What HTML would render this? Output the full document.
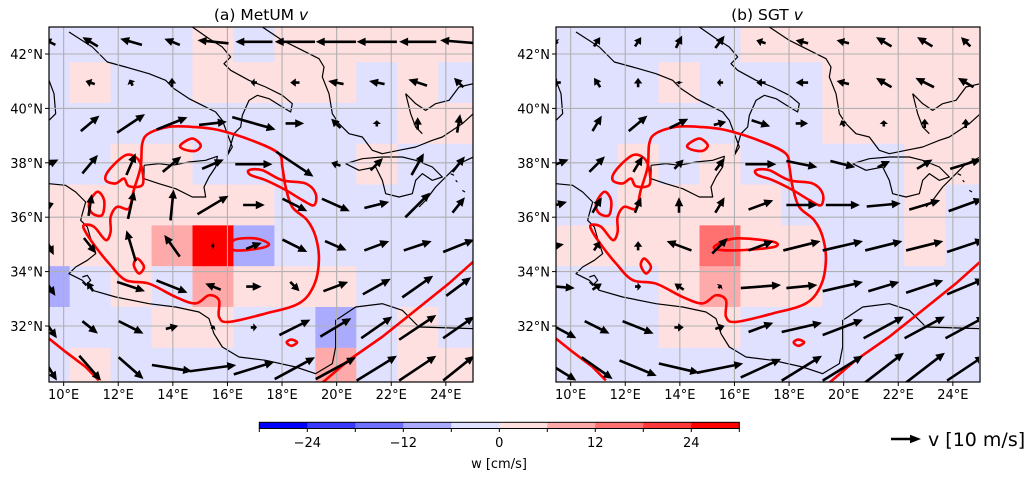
<!DOCTYPE html>
<html><head><meta charset="utf-8"><style>
html,body{margin:0;padding:0;background:#fff;}
svg{display:block;font-family:"DejaVu Sans","Liberation Sans",sans-serif;}
</style></head><body>
<svg id="fig" width="1036" height="480" viewBox="0 0 1036 480" xmlns="http://www.w3.org/2000/svg">
<defs>
<clipPath id="clipA"><rect x="49" y="27" width="424" height="355"/></clipPath>
<clipPath id="clipB"><rect x="556" y="27" width="423" height="355"/></clipPath>
</defs>
<g id="panelA"></g>
<g id="panelB"></g>
<text x="261" y="20" font-size="15.5" text-anchor="middle">(a) MetUM <tspan font-style="italic">v</tspan></text>
<text x="767" y="20" font-size="15.5" text-anchor="middle">(b) SGT <tspan font-style="italic">v</tspan></text>
<g id="cbar"></g>
<g>
<line x1="891" y1="439" x2="912" y2="439" stroke="#000" stroke-width="2.6"/>
<polygon points="921,439 910,434.8 910,443.2" fill="#000"/>
<text x="928" y="446" font-size="19">v [10 m/s]</text>
</g>
</svg>
<script>
// ---- data ----
const lonTicks = [10,12,14,16,18,20,22,24];
const latTicks = [32,34,36,38,40,42];
const cbTicks = [-24,-12,0,12,24];
const cbLevels = [-30,-24,-18,-12,-6,0,6,12,18,24,30];
const cbColors = ["#0000ff","#3939ff","#7070ff","#aaaaff","#e0e0ff","#ffe0e0","#ffaaaa","#ff7070","#ff3939","#ff0000"];
const cellLon0 = 8.72, cellLat0 = 43.2, cellSize = 1.5;
const wA = [
[-3,-3,-3,-3,3,-3,3,3,3,3,3],
[-3,3,-3,-3,3,3,3,3,-3,3,-3],
[-3,-3,-3,-3,-3,-3,-3,-3,-3,3,3],
[-3,-3,3,3,-3,-3,-3,-3,3,-3,-3],
[3,3,3,3,3,3,-3,-3,-3,-3,-3],
[3,3,3,9,27,-9,-3,-3,-3,-3,-3],
[-9,-3,3,-3,9,3,3,3,-3,-3,-3],
[-3,-3,-3,3,3,-3,-3,-9,-3,3,-3],
[-3,3,-3,-3,-3,-3,-3,9,-3,3,3]];
const wB = [
[-3,-3,-3,-3,-3,3,3,3,3,3,3],
[-3,-3,-3,3,-3,-3,-3,3,3,3,3],
[-3,-3,-3,-3,-3,-3,-3,3,3,3,3],
[-3,-3,3,-3,3,-3,-3,-3,-3,3,3],
[-3,-3,3,3,3,3,-3,-3,-3,3,-3],
[3,3,3,3,15,3,3,-3,-3,3,-3],
[-3,-3,-3,3,9,3,3,-3,-3,-3,-3],
[-3,-3,-3,3,3,-3,-3,-3,-3,-3,-3],
[-3,-3,-3,-3,-3,-3,-3,-3,-3,-3,-3]];
const uA = [
[-4,-5,-7,-5,-10,-12,-13,-13,-13,-12,-12],
[0,-3,-1,0,0,-2,-3,-5,-5,-6,-3],
[0,6,9,10,9,14,6,-3,0,0,1],
[6,5,3,6,7,12,12,-3,4,4,4],
[3,1,2,1,10,7,8,9,8,8,4],
[3,4,-3,-5,1,5,8,7,8,9,10],
[4,-2,9,10,-5,5,3,8,9,10,8],
[5,5,8,4,1,2,10,10,10,12,10],
[5,7,8,13,15,13,13,13,13,12,10]];
const vA = [
[2,3,2,2,1,0,0,0,0,0,1],
[0,1,2,3,0,0,0,1,1,2,3],
[0,5,6,4,1,-4,0,3,2,4,6],
[3,6,7,5,3,0,-8,1,4,7,5],
[1,7,9,10,6,0,-4,-4,2,8,5],
[-6,-5,10,7,0,2,-4,-3,3,3,4],
[-6,3,-3,-4,2,0,-3,3,5,7,6],
[-7,-4,-4,1,1,0,5,6,7,8,7],
[-8,-8,-7,-2,2,4,7,7,8,8,8]];
const uB = [
[-1,2,2,2,3,-3,-4,-4,-5,-5,-3],
[-3,-2,0,0,-2,-3,-4,-4,-5,-6,-5],
[0,3,6,6,4,6,4,-1,0,0,0],
[8,5,3,3,3,10,10,8,4,5,10],
[7,3,2,0,3,8,10,11,11,10,11],
[5,2,0,-8,5,8,12,13,12,12,12],
[12,3,2,-3,1,13,10,13,10,12,12],
[13,8,10,3,3,8,13,13,13,13,13],
[13,10,12,13,15,13,13,13,13,13,12]];
const vB = [
[1,3,3,4,4,1,1,1,3,3,3],
[0,3,3,1,0,0,0,1,3,3,3],
[0,5,5,3,1,-2,0,2,2,3,3],
[3,5,5,3,4,0,-2,-2,2,3,3],
[2,5,5,5,5,3,0,0,1,3,4],
[1,3,3,3,5,3,3,3,3,3,4],
[-1,2,0,2,1,1,1,3,3,4,5],
[-7,-4,-4,0,1,3,3,5,7,7,7],
[-8,-7,-5,-3,3,6,8,8,10,10,8]];
// contour lines (w threshold), lon/lat pairs
const contourMain = [[13.85,39.32],[14.71,39.32],[15.69,39.2],[17.03,38.77],[17.88,38.34],[18.01,37.85],[18.13,37.12],[18.37,36.38],[18.92,35.89],[19.23,35.28],[19.35,34.42],[19.17,33.5],[18.62,32.83],[17.4,32.46],[16.05,32.15],[15.69,32.34],[15.69,32.95],[15.32,33.13],[14.83,32.83],[14.1,33.07],[13.12,33.56],[12.27,33.69],[11.66,34.3],[11.17,34.91],[10.8,35.46],[10.74,35.71],[11.11,35.65],[11.54,35.16],[11.72,35.46],[11.72,36.01],[11.96,36.38],[12.39,36.32],[12.57,37.0],[12.82,37.85],[12.88,38.71],[13.12,39.08]];
const contourTentacle = [[16.79,37.73],[17.27,37.73],[18.01,37.36],[18.86,37.24],[19.23,36.87],[19.17,36.44],[18.74,36.63],[18.13,37.0],[17.4,37.36],[16.85,37.55]];
const contourLoopA = [[11.66,37.73],[12.27,38.28],[12.7,38.16],[12.88,37.73],[12.88,37.18],[12.39,37.14],[12.21,37.42],[11.9,37.24],[11.54,37.36]];
const contourLoopB = [[10.93,36.5],[11.23,36.93],[11.48,36.63],[11.41,36.08],[11.05,36.14]];
const contourLoopC = [[14.28,38.65],[14.71,38.89],[15.02,38.65],[14.83,38.44],[14.41,38.49]];
const contourLoopD = [[12.57,34.24],[12.7,34.48],[12.94,34.18],[12.76,33.93]];
const contourLoopEA = [[16.24,35.16],[17.03,35.22],[17.52,35.01],[17.15,34.85],[16.24,34.79]];
const contourLoopEB = [[15.32,34.97],[16.05,35.22],[17.4,35.1],[17.46,34.91],[16.3,34.79],[15.38,34.81]];
const contourLoopF = [[18.17,31.4],[18.34,31.5],[18.55,31.4],[18.34,31.27]];
const contourSE = [[19.47,29.91],[20.45,30.75],[21.67,31.6],[22.89,32.58],[24.11,33.56],[25.0,34.36],[25.6,34.9]];
const contourSW = [[9.3,31.7],[9.46,31.54],[10.07,31.05],[10.8,30.5],[11.29,30.0]];
// coastline decoration (reference 3x-zoom panel pixels)
const coasts = [
[[60,15],[130,60],[175,105],[230,120],[300,140],[350,160],[375,185],[420,215],[460,235],[500,255],[520,280],[535,320],[550,360],[535,385],[545,355],[555,320],[575,300],[580,265],[600,220],[625,205],[660,215],[700,240],[725,255],[730,230],[700,205],[650,180],[600,160],[545,130],[525,110],[545,90],[520,60],[480,35],[430,0]],
[[640,0],[700,40],[760,70],[810,95],[825,120],[820,150],[840,200],[850,260],[870,290],[900,320],[940,330],[970,370],[1000,380],[1050,370],[1100,360],[1150,340],[1180,330],[1240,290],[1273,260]],
[[890,410],[930,430],[980,420],[1000,460],[1010,500],[1050,510],[1090,500],[1100,460],[1120,440],[1150,460],[1180,450],[1150,420],[1100,400],[1060,390],[1000,390],[940,395],[890,410]],
[[1273,390],[1230,410],[1200,440],[1160,480],[1130,520],[1110,540]],
[[1070,200],[1100,230],[1130,250],[1160,230],[1200,220],[1230,180],[1273,170]],
[[1070,200],[1085,260],[1100,300],[1120,320]],
[[285,415],[330,410],[370,415],[420,405],[470,400],[505,388],[500,420],[480,450],[465,480],[470,510],[430,510],[380,485],[330,470],[285,455],[285,415]],
[[0,470],[50,475],[80,495],[110,525],[100,560],[95,580],[115,600],[125,635],[140,680],[115,700],[80,720],[60,740],[100,760],[130,790],[200,810],[300,830],[380,840],[450,855],[480,875],[495,920],[520,960],[570,990],[650,1000],[740,1020],[800,1040],[850,1010],[860,960],[860,880],[920,840],[1000,830],[1060,850],[1110,900],[1273,905]],
[[0,160],[15,200],[20,260],[0,280]],
[[100,750],[115,745],[125,760],[110,775],[100,765]],
[[1205,440],[1215,445]],[[1220,460],[1225,465]],[[1240,490],[1248,495]]
];
// ---- drawing ----
const NS = "http://www.w3.org/2000/svg";
function mk(tag, attrs, parent){const e=document.createElementNS(NS,tag);for(const k in attrs)e.setAttribute(k,attrs[k]);parent.appendChild(e);return e;}
function colorFor(w){for(let i=0;i<cbColors.length;i++){if(w<cbLevels[i+1])return cbColors[i];}return cbColors[cbColors.length-1];}
function drawPanel(gid, ox, clipId, w, u, v, loopE){
  const g=document.getElementById(gid);
  const X=lon=>ox+1+(lon-9.5)*27.3;
  const Y=lat=>54+(42-lat)*27.2;
  const W=424, top=27, H=355;
  const clip=mk('g',{'clip-path':'url(#'+clipId+')'},g);
  
  
  w.forEach((row,r)=>row.forEach((val,c)=>{
    const x0=X(cellLon0+c*cellSize), x1=X(cellLon0+(c+1)*cellSize);
    const y0=Y(cellLat0-r*cellSize), y1=Y(cellLat0-(r+1)*cellSize);
    const rc=mk('rect',{x:x0,y:y0,width:x1-x0+0.5,height:y1-y0+0.5,fill:colorFor(val)},clip);
    
    
  }));
  coasts.forEach(line=>{
    const p=mk('polyline',{points:line.map(q=>(ox+q[0]/3)+','+(27+q[1]/3)).join(' '),fill:'none',stroke:'#000','stroke-width':1.2,'stroke-linejoin':'round'},clip);
    
    
  });
  lonTicks.forEach(t=>{const l=mk('line',{x1:X(t),x2:X(t),y1:top,y2:top+H,stroke:'#b0b0b0','stroke-width':1.1},clip);});
  latTicks.forEach(t=>{const l=mk('line',{x1:ox,x2:ox+W,y1:Y(t),y2:Y(t),stroke:'#b0b0b0','stroke-width':1.1},clip);});
  const closed=[contourMain,contourTentacle,contourLoopA,contourLoopB,contourLoopC,contourLoopD,loopE,contourLoopF];
  closed.forEach(pts=>{
    let d='';const n=pts.length;
    const P=pts.map(q=>[X(q[0]),Y(q[1])]);
    for(let i=0;i<n;i++){const p0=P[(i-1+n)%n],p1=P[i],p2=P[(i+1)%n],p3=P[(i+2)%n];
      if(i===0)d+='M'+p1[0]+','+p1[1];
      d+='C'+(p1[0]+(p2[0]-p0[0])/6)+','+(p1[1]+(p2[1]-p0[1])/6)+' '+(p2[0]-(p3[0]-p1[0])/6)+','+(p2[1]-(p3[1]-p1[1])/6)+' '+p2[0]+','+p2[1];}
    const pa=mk('path',{d:d+'Z',fill:'none',stroke:'#ff0000','stroke-width':2.6},clip);
    
    
  });
  [contourSE,contourSW].forEach(pts=>{
    const pl=mk('polyline',{points:pts.map(q=>X(q[0])+','+Y(q[1])).join(' '),fill:'none',stroke:'#ff0000','stroke-width':2.6},clip);
    
    
  });
  const s=3.1;
  u.forEach((row,r)=>row.forEach((uu,c)=>{
    const vv=v[r][c];
    const cx=X(cellLon0+(c+0.5)*cellSize), cy=Y(cellLat0-(r+0.5)*cellSize);
    const dx=uu*s, dy=-vv*s, L=Math.hypot(dx,dy);
    if(L<1)return;
    const ux=dx/L, uy=dy/L, nx=-uy, ny=ux;
    const tx=cx-dx/2, ty=cy-dy/2, hx=cx+dx/2, hy=cy+dy/2;
    const hl=Math.min(9,L*0.6), hw=4.2, sw=1.3;
    const bx=hx-ux*hl, by=hy-uy*hl;
    const pts=[[tx+nx*sw,ty+ny*sw],[bx+nx*sw,by+ny*sw],[bx+nx*hw,by+ny*hw],[hx,hy],[bx-nx*hw,by-ny*hw],[bx-nx*sw,by-ny*sw],[tx-nx*sw,ty-ny*sw]];
    const a=mk('polygon',{points:pts.map(p=>p[0].toFixed(1)+','+p[1].toFixed(1)).join(' '),fill:'#000'},clip);
    
    
  }));
  const fr=mk('rect',{x:ox,y:top,width:W,height:H,fill:'none',stroke:'#000','stroke-width':1.2},g);
  
  
  lonTicks.forEach(t=>{
    mk('line',{x1:X(t),x2:X(t),y1:top+H,y2:top+H+4,stroke:'#000','stroke-width':1},g);
    const tx=mk('text',{x:X(t),y:top+H+17,'font-size':13,'text-anchor':'middle'},g);
    tx.textContent=t+'°E';
    
    
  });
  latTicks.forEach(t=>{
    mk('line',{x1:ox-4,x2:ox,y1:Y(t),y2:Y(t),stroke:'#000','stroke-width':1},g);
    const tx=mk('text',{x:ox-6,y:Y(t)+5,'font-size':13,'text-anchor':'end'},g);
    tx.textContent=t+'°N';
    
    
  });
}
drawPanel('panelA',49,'clipA',wA,uA,vA,contourLoopEA);
drawPanel('panelB',556,'clipB',wB,uB,vB,contourLoopEB);
(function(){
  const g=document.getElementById('cbar');
  const CX=val=>259.3+(val+30)*8;
  for(let i=0;i<cbColors.length;i++){
    const r=mk('rect',{x:CX(cbLevels[i]),y:422.3,width:CX(cbLevels[i+1])-CX(cbLevels[i])+0.3,height:6.2,fill:cbColors[i]},g);
    
    
  }
  mk('rect',{x:259.3,y:422.3,width:480,height:6.2,fill:'none',stroke:'#000','stroke-width':1},g);
  cbLevels.forEach(t=>mk('line',{x1:CX(t),x2:CX(t),y1:428.5,y2:432,stroke:'#000','stroke-width':1},g));
  cbTicks.forEach(t=>{
    const tx=mk('text',{x:CX(t),y:447,'font-size':13,'text-anchor':'middle'},g);
    tx.textContent=(t<0?'\u2212'+(-t):String(t));
    
    
  });
  const lb=mk('text',{x:499,y:468,'font-size':13,'text-anchor':'middle'},g);
  lb.textContent='w [cm/s]';
  
  
})();
</script>
</body></html>
